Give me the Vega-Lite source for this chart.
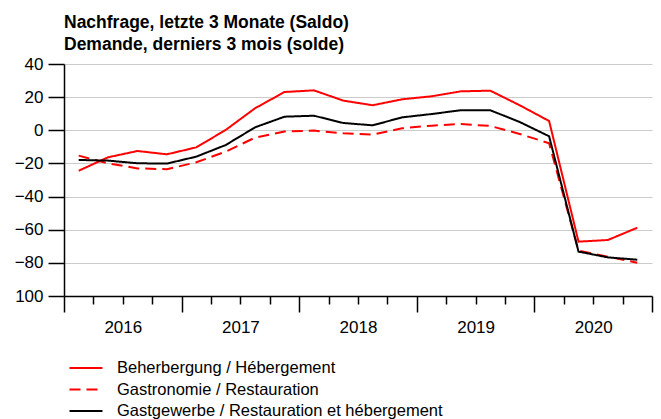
{
  "$schema": "https://vega.github.io/schema/vega-lite/v6.json",
  "width": 588,
  "height": 232,
  "autosize": "none",
  "padding": {"left": 64, "top": 64, "right": 9, "bottom": 123},
  "background": "white",
  "config": {
    "font": "Liberation Sans",
    "view": {"stroke": null},
    "legend": {
      "orient": "none",
      "legendX": 11,
      "legendY": 293,
      "direction": "vertical",
      "title": null,
      "symbolType": "M-1.65,0L1.65,0",
      "symbolSize": 400,
      "symbolStrokeWidth": 2,
      "labelFontSize": 16.5,
      "labelColor": "black",
      "labelFont": "Liberation Sans",
      "labelLimit": 0,
      "rowPadding": 1.5,
      "labelOffset": 20,
      "padding": 0
    }
  },
  "title": {
    "text": ["Nachfrage, letzte 3 Monate (Saldo)", "Demande, derniers 3 mois (solde)"],
    "anchor": "start",
    "frame": "group",
    "fontSize": 17.5,
    "fontWeight": "bold",
    "font": "Liberation Sans",
    "lineHeight": 22,
    "offset": 2,
    "color": "black"
  },
  "data": {
    "values": [
      {"t": 2016.125, "s": "Beherbergung / Hébergement", "v": -24.4},
      {"t": 2016.375, "s": "Beherbergung / Hébergement", "v": -16.3},
      {"t": 2016.625, "s": "Beherbergung / Hébergement", "v": -12.5},
      {"t": 2016.875, "s": "Beherbergung / Hébergement", "v": -14.5},
      {"t": 2017.125, "s": "Beherbergung / Hébergement", "v": -10.3},
      {"t": 2017.375, "s": "Beherbergung / Hébergement", "v": 0.2},
      {"t": 2017.625, "s": "Beherbergung / Hébergement", "v": 13.3},
      {"t": 2017.875, "s": "Beherbergung / Hébergement", "v": 23.1},
      {"t": 2018.125, "s": "Beherbergung / Hébergement", "v": 24.1},
      {"t": 2018.375, "s": "Beherbergung / Hébergement", "v": 17.9},
      {"t": 2018.625, "s": "Beherbergung / Hébergement", "v": 15.1},
      {"t": 2018.875, "s": "Beherbergung / Hébergement", "v": 18.7},
      {"t": 2019.125, "s": "Beherbergung / Hébergement", "v": 20.5},
      {"t": 2019.375, "s": "Beherbergung / Hébergement", "v": 23.5},
      {"t": 2019.625, "s": "Beherbergung / Hébergement", "v": 23.9},
      {"t": 2019.875, "s": "Beherbergung / Hébergement", "v": 15.1},
      {"t": 2020.125, "s": "Beherbergung / Hébergement", "v": 5.6},
      {"t": 2020.375, "s": "Beherbergung / Hébergement", "v": -67.2},
      {"t": 2020.625, "s": "Beherbergung / Hébergement", "v": -66.2},
      {"t": 2020.875, "s": "Beherbergung / Hébergement", "v": -58.8},
      {"t": 2016.125, "s": "Gastronomie / Restauration", "v": -15.3},
      {"t": 2016.375, "s": "Gastronomie / Restauration", "v": -20.0},
      {"t": 2016.625, "s": "Gastronomie / Restauration", "v": -23.0},
      {"t": 2016.875, "s": "Gastronomie / Restauration", "v": -23.5},
      {"t": 2017.125, "s": "Gastronomie / Restauration", "v": -19.3},
      {"t": 2017.375, "s": "Gastronomie / Restauration", "v": -12.9},
      {"t": 2017.625, "s": "Gastronomie / Restauration", "v": -4.4},
      {"t": 2017.875, "s": "Gastronomie / Restauration", "v": -0.8},
      {"t": 2018.125, "s": "Gastronomie / Restauration", "v": -0.2},
      {"t": 2018.375, "s": "Gastronomie / Restauration", "v": -1.8},
      {"t": 2018.625, "s": "Gastronomie / Restauration", "v": -2.6},
      {"t": 2018.875, "s": "Gastronomie / Restauration", "v": 1.2},
      {"t": 2019.125, "s": "Gastronomie / Restauration", "v": 2.8},
      {"t": 2019.375, "s": "Gastronomie / Restauration", "v": 3.8},
      {"t": 2019.625, "s": "Gastronomie / Restauration", "v": 2.6},
      {"t": 2019.875, "s": "Gastronomie / Restauration", "v": -2.2},
      {"t": 2020.125, "s": "Gastronomie / Restauration", "v": -7.8},
      {"t": 2020.375, "s": "Gastronomie / Restauration", "v": -72.6},
      {"t": 2020.625, "s": "Gastronomie / Restauration", "v": -76.3},
      {"t": 2020.875, "s": "Gastronomie / Restauration", "v": -79.9},
      {"t": 2016.125, "s": "Gastgewerbe / Restauration et hébergement", "v": -17.9},
      {"t": 2016.375, "s": "Gastgewerbe / Restauration et hébergement", "v": -18.3},
      {"t": 2016.625, "s": "Gastgewerbe / Restauration et hébergement", "v": -19.9},
      {"t": 2016.875, "s": "Gastgewerbe / Restauration et hébergement", "v": -20.1},
      {"t": 2017.125, "s": "Gastgewerbe / Restauration et hébergement", "v": -15.9},
      {"t": 2017.375, "s": "Gastgewerbe / Restauration et hébergement", "v": -8.9},
      {"t": 2017.625, "s": "Gastgewerbe / Restauration et hébergement", "v": 1.8},
      {"t": 2017.875, "s": "Gastgewerbe / Restauration et hébergement", "v": 8.2},
      {"t": 2018.125, "s": "Gastgewerbe / Restauration et hébergement", "v": 8.8},
      {"t": 2018.375, "s": "Gastgewerbe / Restauration et hébergement", "v": 4.4},
      {"t": 2018.625, "s": "Gastgewerbe / Restauration et hébergement", "v": 3.0},
      {"t": 2018.875, "s": "Gastgewerbe / Restauration et hébergement", "v": 7.8},
      {"t": 2019.125, "s": "Gastgewerbe / Restauration et hébergement", "v": 9.8},
      {"t": 2019.375, "s": "Gastgewerbe / Restauration et hébergement", "v": 12.1},
      {"t": 2019.625, "s": "Gastgewerbe / Restauration et hébergement", "v": 12.1},
      {"t": 2019.875, "s": "Gastgewerbe / Restauration et hébergement", "v": 5.0},
      {"t": 2020.125, "s": "Gastgewerbe / Restauration et hébergement", "v": -3.6},
      {"t": 2020.375, "s": "Gastgewerbe / Restauration et hébergement", "v": -73.2},
      {"t": 2020.625, "s": "Gastgewerbe / Restauration et hébergement", "v": -76.7},
      {"t": 2020.875, "s": "Gastgewerbe / Restauration et hébergement", "v": -78.1}
    ]
  },
  "mark": {"type": "line", "strokeWidth": 2, "clip": false},
  "encoding": {
    "x": {
      "field": "t",
      "type": "quantitative",
      "scale": {"domain": [2016, 2021], "nice": false, "zero": false},
      "axis": {
        "values": [2016, 2016.25, 2016.5, 2016.75, 2017, 2017.25, 2017.5, 2017.75, 2018, 2018.25, 2018.5, 2018.75, 2019, 2019.25, 2019.5, 2019.75, 2020, 2020.25, 2020.5, 2020.75, 2021],
        "grid": false,
        "title": null,
        "domainColor": "black",
        "domainWidth": 1.5,
        "tickColor": "black",
        "tickWidth": 1.5,
        "tickSize": {"condition": {"test": "datum.value % 1 === 0", "value": 16}, "value": 8},
        "labelExpr": "datum.value % 1 === 0.5 ? toString(floor(datum.value)) : ''",
        "labelFontSize": 17,
        "labelFont": "Liberation Sans",
        "labelColor": "black",
        "labelPadding": 15,
        "labelFlush": false,
        "labelOverlap": false,
        "labelBound": false
      }
    },
    "y": {
      "field": "v",
      "type": "quantitative",
      "scale": {"domain": [-100, 40], "nice": false},
      "axis": {
        "values": [-100, -80, -60, -40, -20, 0, 20, 40],
        "grid": true,
        "gridColor": "#cccccc",
        "gridWidth": 1,
        "title": null,
        "domainColor": "black",
        "domainWidth": 1.5,
        "tickColor": "black",
        "tickWidth": 1.5,
        "tickSize": 16,
        "labelPadding": 5,
        "labelFontSize": 17,
        "labelFont": "Liberation Sans",
        "labelColor": "black",
        "labelExpr": "datum.value === -100 ? '100' : datum.label"
      }
    },
    "color": {
      "field": "s",
      "type": "nominal",
      "scale": {
        "domain": ["Beherbergung / Hébergement", "Gastronomie / Restauration", "Gastgewerbe / Restauration et hébergement"],
        "range": ["#ff0000", "#ff0000", "#000000"]
      }
    },
    "strokeDash": {
      "field": "s",
      "type": "nominal",
      "scale": {
        "domain": ["Beherbergung / Hébergement", "Gastronomie / Restauration", "Gastgewerbe / Restauration et hébergement"],
        "range": [[1, 0], [11, 6], [1, 0]]
      }
    }
  }
}
